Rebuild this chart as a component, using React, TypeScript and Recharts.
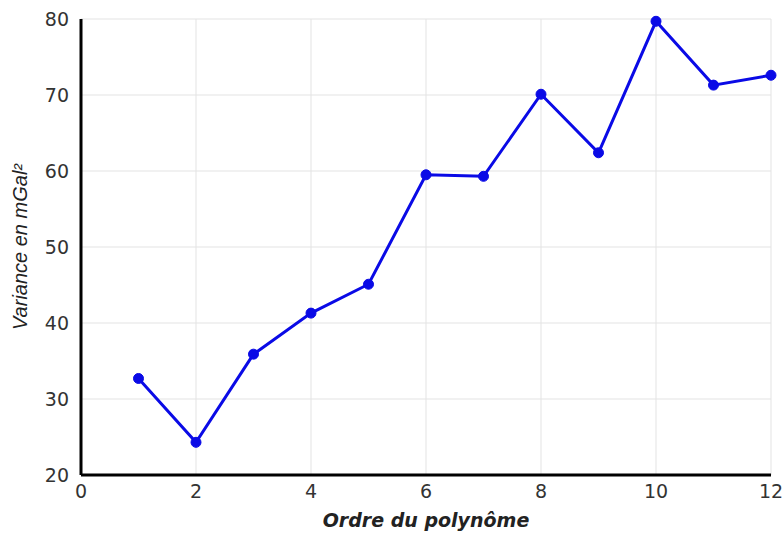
import { LineChart, Line, XAxis, YAxis, CartesianGrid } from 'recharts'

const orders = [1, 2, 3, 4, 5, 6, 7, 8, 9, 10, 11, 12]
const variances = [32.7, 24.3, 35.9, 41.3, 45.1, 59.5, 59.3, 70.1, 62.4, 79.7, 71.3, 72.6]
const xTicks = [0, 2, 4, 6, 8, 10, 12]
const yTicks = [20, 30, 40, 50, 60, 70, 80]

const data = orders.map((o, i) => ({ order: o, variance: variances[i] }))

const font = '"Liberation Sans", Arial, sans-serif'
const wide = '"DejaVu Sans", sans-serif'

export default function App() {
  return (
    <div style={{ position: 'absolute', left: 0, top: 0, background: '#fff' }}>
      <LineChart
        width={784}
        height={533}
        data={data}
        margin={{ top: 19, right: 13, bottom: 0, left: 20 }}
      >
        <CartesianGrid stroke="#e3e3e3" strokeWidth={1} />
        <XAxis
          dataKey="order"
          type="number"
          domain={[0, 12]}
          ticks={xTicks}
          height={58}
          stroke="#000"
          strokeWidth={3}
          tickLine={false}
          tickSize={4}
          tickMargin={6}
          tick={{ fill: '#333', fontSize: 19, fontFamily: wide }}
          label={{
            value: 'Ordre du polynôme',
            position: 'insideBottom',
            offset: 6,
            style: { fill: '#222', fontSize: 19, fontStyle: 'italic', fontWeight: 'bold', fontFamily: wide },
          }}
        />
        <YAxis
          type="number"
          domain={[20, 80]}
          ticks={yTicks}
          width={61}
          stroke="#000"
          strokeWidth={3}
          tickLine={false}
          tickSize={4}
          tickMargin={8}
          tick={{ fill: '#333', fontSize: 19, fontFamily: wide }}
          label={{
            value: 'Variance en mGal²',
            angle: -90,
            position: 'insideLeft',
            offset: 0,
            style: { textAnchor: 'middle', fill: '#222', fontSize: 20, fontStyle: 'italic', fontFamily: font },
          }}
        />
        <Line
          type="linear"
          dataKey="variance"
          stroke="#0a0ae6"
          strokeWidth={3}
          dot={{ r: 5, fill: '#0a0ae6', stroke: '#0a0ae6', strokeWidth: 1 }}
          activeDot={false}
          isAnimationActive={false}
        />
      </LineChart>
    </div>
  )
}
